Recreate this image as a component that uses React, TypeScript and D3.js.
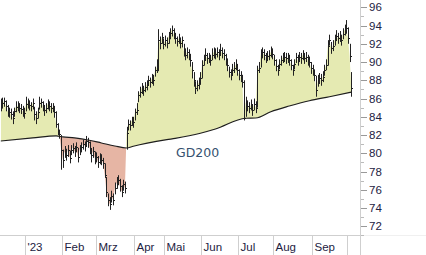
import React from "react";
import * as d3 from "d3";

// ---- data ----
const closes = [
  85.2,85.5,85.7,85.2,84.6,84.5,84.3,83.9,84.6,85.1,
  85.2,85.0,84.9,84.6,84.4,85.4,85.5,85.3,85.2,85.5,
  84.3,83.9,84.5,85.5,85.6,85.2,84.7,85.0,85.4,85.2,
  85.0,85.1,84.5,83.2,82.6,82.1,80.4,79.3,80.2,79.8,
  80.4,79.5,80.4,80.6,80.2,80.7,79.6,80.4,80.7,81.0,
  80.8,81.4,81.2,80.6,79.8,80.2,79.5,79.6,79.0,79.5,
  79.3,78.9,77.6,75.8,74.9,74.4,75.3,74.9,76.2,76.7,
  77.1,76.4,75.8,76.6,76.2,82.2,83.2,83.1,83.6,83.4,
  84.5,84.7,86.4,86.7,87.2,86.9,87.3,87.5,88.0,87.8,
  88.2,88.0,89.1,89.4,92.4,92.1,92.7,92.0,92.4,92.1,
  92.8,93.2,93.5,93.1,92.6,92.3,92.6,92.1,92.4,91.3,
  90.8,91.1,90.8,90.2,89.1,88.0,87.2,87.5,87.7,88.2,
  89.7,90.2,90.8,90.4,90.5,90.2,90.8,91.1,90.9,91.1,
  90.8,91.3,91.0,90.8,90.2,89.7,88.9,88.6,89.1,89.4,
  89.7,89.1,88.6,88.4,87.8,83.9,85.6,85.2,85.0,85.3,
  84.7,85.4,85.0,89.1,89.4,90.8,91.1,90.8,90.5,90.7,
  90.8,91.1,90.9,90.2,89.6,89.1,89.8,90.2,90.5,90.6,
  90.4,90.5,90.2,89.7,89.1,89.8,90.5,90.2,90.6,90.4,
  90.8,90.4,90.6,90.2,90.0,89.3,89.1,88.6,86.9,88.0,
  88.2,88.0,88.4,89.1,89.7,91.8,92.4,91.5,91.8,92.4,
  92.9,92.6,92.8,92.4,93.1,93.5,93.7,92.6,90.7,87.2,
];

const highs = [
  86.0,86.1,86.1,85.8,85.3,85.0,84.9,84.6,85.0,85.7,
  85.7,85.5,85.4,85.2,85.0,86.2,86.0,85.8,85.6,86.0,
  85.1,84.6,85.0,86.2,86.0,85.7,85.3,85.5,85.9,85.7,
  85.5,85.5,85.2,84.6,83.3,82.6,82.0,80.4,80.8,80.5,
  80.9,80.3,80.9,81.1,80.8,81.2,80.6,80.9,81.2,81.5,
  81.3,81.9,81.7,81.3,80.5,80.7,80.2,80.1,79.7,80.0,
  79.9,79.5,78.9,77.4,75.6,75.2,75.9,75.6,76.8,77.4,
  77.6,77.2,76.5,77.1,76.9,82.9,83.7,83.6,84.0,84.0,
  84.9,85.5,86.8,87.3,87.7,87.4,87.8,88.0,88.5,88.3,
  88.7,88.6,89.5,90.3,93.6,92.8,93.2,92.6,92.9,92.7,
  93.3,93.7,94.0,93.7,93.2,92.8,93.1,92.7,92.8,92.0,
  91.5,91.6,91.4,90.9,90.0,88.9,87.9,88.0,88.3,88.9,
  90.2,90.8,91.5,91.0,91.0,90.8,91.5,91.6,91.5,91.6,
  91.4,92.0,91.6,91.4,90.9,90.4,89.5,89.2,89.8,90.0,
  90.3,89.8,89.2,89.0,88.6,88.0,86.2,85.8,85.6,85.9,
  85.4,86.0,85.7,89.6,90.0,91.4,91.6,91.4,91.0,91.2,
  91.3,91.7,91.5,90.8,90.3,89.7,90.3,90.7,91.0,91.1,
  91.0,91.0,90.8,90.3,89.7,90.3,91.0,90.8,91.1,91.0,
  91.3,91.0,91.1,90.8,90.6,90.0,89.7,89.2,88.5,88.6,
  88.8,88.7,89.0,89.7,90.3,92.4,93.0,92.2,92.4,93.0,
  93.5,93.2,93.4,93.0,93.7,94.1,94.6,93.8,92.0,88.9,
];

const lows = [
  84.6,84.9,85.1,84.6,84.0,83.9,83.7,83.2,84.0,84.5,
  84.6,84.4,84.3,84.0,83.8,84.6,84.9,84.7,84.6,84.8,
  83.6,83.2,83.8,84.8,85.0,84.6,84.1,84.4,84.8,84.6,
  84.4,84.5,83.9,82.8,82.0,81.6,78.2,78.4,79.5,79.2,
  79.6,78.9,79.8,80.0,79.6,80.1,79.0,79.8,80.1,80.4,
  80.2,80.8,80.6,79.9,79.0,79.5,78.8,79.0,78.4,78.8,
  78.7,78.3,77.3,75.2,74.2,73.8,74.6,74.3,75.5,76.1,
  76.5,75.8,75.2,75.9,75.6,80.4,82.5,82.5,83.0,82.8,
  83.6,84.2,85.6,86.1,86.5,86.3,86.7,86.9,87.4,87.2,
  87.6,87.4,88.4,88.8,89.0,91.4,92.0,91.4,91.7,91.5,
  92.0,92.5,92.8,92.5,92.0,91.7,92.0,91.5,91.6,90.6,
  90.2,90.4,90.2,89.5,88.2,87.3,86.5,86.8,87.0,87.5,
  88.2,89.6,90.2,89.8,89.9,89.6,90.2,90.4,90.3,90.5,
  90.2,90.7,90.4,90.2,89.6,89.0,88.3,88.0,88.5,88.8,
  89.1,88.5,88.0,87.8,87.2,83.6,84.0,84.6,84.4,84.7,
  84.1,84.7,84.4,85.0,88.8,89.4,90.4,90.2,89.9,90.1,
  90.2,90.5,90.3,89.6,89.0,88.5,89.2,89.6,89.9,90.0,
  89.8,89.9,89.6,89.1,88.5,89.2,89.9,89.6,90.0,89.8,
  90.2,89.8,90.0,89.6,89.4,88.7,88.5,87.9,86.2,87.3,
  87.6,87.4,87.8,88.5,89.1,89.6,91.8,90.9,91.2,91.8,
  92.3,92.0,92.2,91.8,92.5,92.9,93.1,92.0,90.0,86.2,
];

// GD200 (200-day average) read at these bar positions
const gdIndex = [0, 19, 33, 37, 44, 52, 60, 68, 75, 79, 99, 104, 119, 128, 146, 152, 161, 172, 184, 196, 209];
const gdValues = [81.35, 81.68, 81.9, 81.8, 81.68, 81.46, 81.13, 80.8, 80.58, 80.77, 81.49, 81.64, 82.2, 82.66, 83.84, 83.87, 84.56, 85.18, 85.76, 86.2, 86.7];

// month separators (bar index of first trading day) and labels
const monthIndex = [15, 37, 57, 80, 98, 120, 142, 163, 186, 207];
const monthLabels = ["'23", "Feb", "Mrz", "Apr", "Mai", "Jun", "Jul", "Aug", "Sep", ""];

const yTicks = [72, 74, 76, 78, 80, 82, 84, 86, 88, 90, 92, 94, 96];
const yMinorTicks = [71, 73, 75, 77, 79, 81, 83, 85, 87, 89, 91, 93, 95];

const W = 426;
const H = 255;
const plotRight = 360;
const plotBottom = 235;

export default function App() {
  const x = d3.scaleLinear().domain([0, 209]).range([0.8, 0.8 + 209 * 1.677]);
  const y = d3.scaleLinear().domain([72, 96]).range([226.3, 7.3]);

  const idx = closes.map((_, i) => i);
  const gdPts: [number, number][] = gdIndex.map((g, k) => [g, gdValues[k]]);

  const priceBelow = d3.area<number>().x((i) => x(i)).y0(plotBottom).y1((i) => y(closes[i]))(idx) || "";
  const priceAbove = d3.area<number>().x((i) => x(i)).y0(0).y1((i) => y(closes[i]))(idx) || "";

  const gdCurve = d3.curveMonotoneX;
  const gdLine = d3.line<[number, number]>().x((d) => x(d[0])).y((d) => y(d[1])).curve(gdCurve)(gdPts) || "";
  const gdAreaTop = d3.area<[number, number]>().x((d) => x(d[0])).y0(-10).y1((d) => y(d[1])).curve(gdCurve)(gdPts) || "";
  const gdAreaBottom = d3.area<[number, number]>().x((d) => x(d[0])).y0(plotBottom + 10).y1((d) => y(d[1])).curve(gdCurve)(gdPts) || "";

  const tickFont = "'Liberation Sans', Arial, sans-serif";

  return (
    <svg width={W} height={H} style={{ position: "absolute", left: 0, top: 0, background: "#fff" }}>
      <defs>
        <clipPath id="aboveGD"><path d={gdAreaTop} /></clipPath>
        <clipPath id="belowGD"><path d={gdAreaBottom} /></clipPath>
        <clipPath id="plot"><rect x={0} y={0} width={plotRight} height={plotBottom} /></clipPath>
      </defs>

      <g clipPath="url(#plot)">
        <path d={priceBelow} fill="#e5eab2" clipPath="url(#aboveGD)" />
        <path d={priceAbove} fill="#e6b5a4" clipPath="url(#belowGD)" />
        <path d={gdLine} fill="none" stroke="#1e1e1e" strokeWidth={1.2} />
        {idx.map((i) => (
          <g key={i} stroke="#222" strokeWidth={1}>
            <line x1={Math.round(x(i)) + 0.5} x2={Math.round(x(i)) + 0.5} y1={y(highs[i])} y2={y(lows[i])} />
            <line x1={Math.round(x(i)) + 0.5} x2={Math.round(x(i)) + 2} y1={Math.round(y(closes[i])) + 0.5} y2={Math.round(y(closes[i])) + 0.5} />
          </g>
        ))}
      </g>

      <text x={176} y={157} fontFamily="'DejaVu Sans', Verdana, sans-serif" fontSize={12.5} fill="#35516f">GD200</text>

      {/* x axis */}
      <line x1={0} x2={plotRight} y1={plotBottom + 0.5} y2={plotBottom + 0.5} stroke="#cfcfcf" />
      <line x1={plotRight} x2={W} y1={plotBottom + 0.5} y2={plotBottom + 0.5} stroke="#f0f0f0" />
      {monthIndex.map((m, k) => {
        const sx = Math.round(x(m) - 0.8) + 0.5;
        return (
          <g key={k}>
            <line x1={sx} x2={sx} y1={plotBottom} y2={H} stroke="#cfcfcf" />
            {monthLabels[k] && (
              <text x={sx + 2} y={251} fontFamily={tickFont} fontSize={11.5} fill="#1d2242">{monthLabels[k]}</text>
            )}
          </g>
        );
      })}

      {/* y axis */}
      <line x1={plotRight + 0.5} x2={plotRight + 0.5} y1={0} y2={H} stroke="#cfcfcf" />
      {yMinorTicks.map((t) => (
        <line key={"m" + t} x1={plotRight + 1} x2={plotRight + 4} y1={Math.round(y(t)) + 0.5} y2={Math.round(y(t)) + 0.5} stroke="#bbb" />
      ))}
      {yTicks.map((t) => (
        <g key={t}>
          <line x1={plotRight + 1} x2={plotRight + 7} y1={Math.round(y(t)) + 0.5} y2={Math.round(y(t)) + 0.5} stroke="#999" />
          <text x={plotRight + 9} y={y(t)} dy="0.36em" fontFamily={tickFont} fontSize={11.5} fill="#1d2242">{t}</text>
        </g>
      ))}
    </svg>
  );
}
